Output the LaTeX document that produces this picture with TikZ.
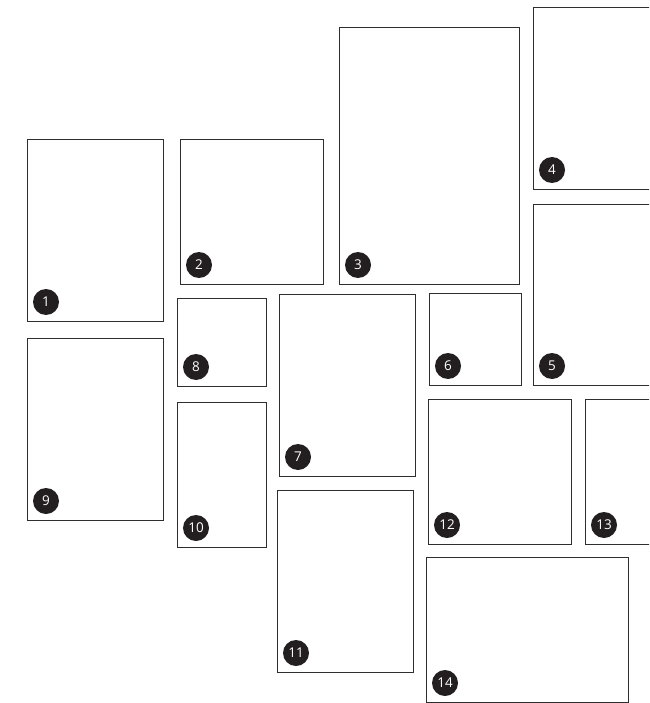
\documentclass[tikz,border=0pt]{standalone}
\usepackage{fontspec}
\setmainfont{Open Sans}
\definecolor{frame}{HTML}{2E2E2E}
\definecolor{badge}{HTML}{231F20}
\tikzset{
  panel/.style={draw=frame, line width=0.9pt},
  badgenode/.style={circle, fill=badge, inner sep=0pt, minimum size=26pt,
    text=white, font=\fontsize{13.5}{13.5}\selectfont}
}
\newcommand{\panelbox}[5]{%
  \draw[panel] (#1,#2) rectangle (#3,#4);
  \node[badgenode] (b#5) at (#1+19,#4-19) {#5};
}
\begin{document}
\begin{tikzpicture}[x=1pt,y=-1pt]
\useasboundingbox (0,0) rectangle (649,703);
\clip (0,0) rectangle (649,703);
\panelbox{27}{139}{163}{321}{1}
\panelbox{180}{139}{323}{284}{2}
\panelbox{339}{27}{519}{284}{3}
\panelbox{533}{7}{655}{189}{4}
\panelbox{533}{204}{655}{385}{5}
\panelbox{429}{293}{521}{385}{6}
\panelbox{279}{294}{415}{476}{7}
\panelbox{177}{298}{266}{386}{8}
\panelbox{27}{338}{163}{520}{9}
\panelbox{177}{402}{266}{547}{10}
\panelbox{277}{490}{413}{672}{11}
\panelbox{428}{399}{571}{544}{12}
\panelbox{585}{399}{655}{544}{13}
\panelbox{426}{557}{628}{702}{14}
\end{tikzpicture}
\end{document}
